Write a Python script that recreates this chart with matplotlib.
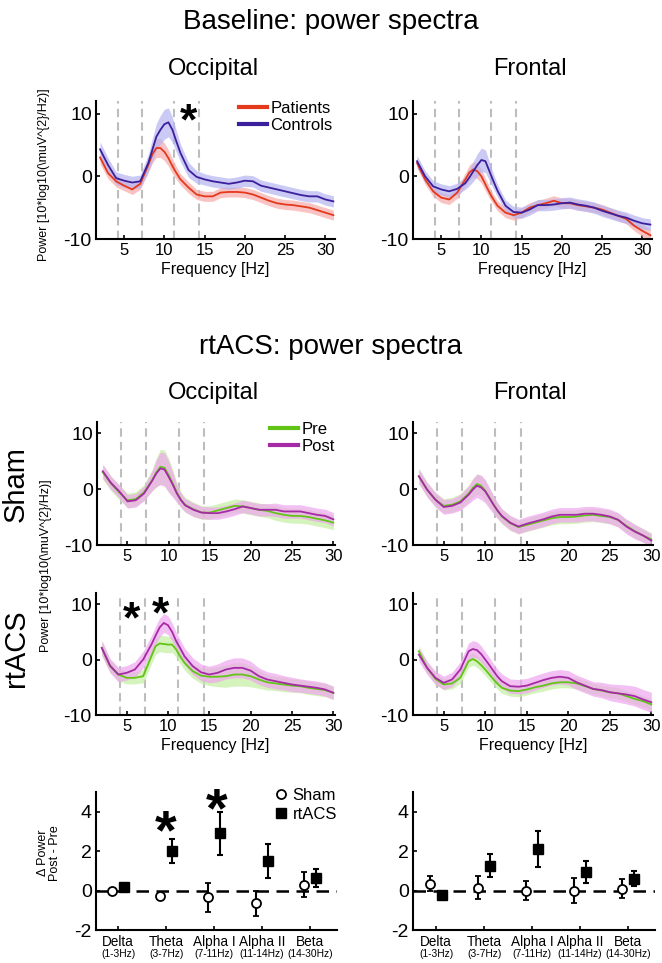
import matplotlib
matplotlib.use("Agg")
import matplotlib.pyplot as plt
from matplotlib.lines import Line2D
import numpy as np

plt.rcParams['font.family'] = ['Liberation Sans', 'DejaVu Sans']
plt.rcParams['axes.unicode_minus'] = False

# ---------------- data ----------------
FREQ_BASE = [2, 3, 4, 5, 6, 7, 8, 8.5, 9, 9.5, 10, 10.5, 11, 11.5, 12, 13, 14, 15, 16, 17,
             18, 19, 20, 21, 22, 23, 24, 25, 26, 27, 28, 29, 30, 31]
FREQ_RT = [2, 3, 4, 5, 6, 7, 8, 8.5, 9, 9.5, 10, 10.5, 11, 11.5, 12, 13, 14, 15, 16, 17,
           18, 19, 20, 21, 22, 23, 24, 25, 26, 27, 28, 29, 30]
BAND_EDGES = [4.2, 7.2, 11.2, 14.3]
FREQ_TICKS = [5, 10, 15, 20, 25, 30]

# Baseline occipital
patients_occ = [3.0, 0.5, -0.8, -1.5, -2.1, -1.2, 1.8, 3.5, 4.5, 4.5, 3.9, 2.9, 1.6, 0.5, -0.5,
                -1.8, -2.9, -3.2, -3.2, -2.6, -2.5, -2.5, -2.6, -2.9, -3.4, -3.9, -4.3, -4.5,
                -4.6, -4.8, -5.0, -5.4, -5.8, -6.2]
patients_occ_sem = [1.0, 0.9, 0.9, 0.8, 0.8, 0.9, 1.2, 1.4, 1.5, 1.5, 1.4, 1.3, 1.2, 1.0, 0.9,
                    0.9, 0.8, 0.8, 0.8, 0.8, 0.8, 0.8, 0.8, 0.8, 0.8, 0.8, 0.8, 0.8, 0.8, 0.8,
                    0.8, 0.8, 0.8, 0.8]
controls_occ = [4.3, 1.8, -0.3, -0.7, -1.0, -0.8, 2.1, 4.2, 6.3, 7.4, 8.3, 8.6, 7.4, 5.5, 3.7,
                1.0, -0.1, -0.5, -0.8, -1.0, -1.2, -1.0, -0.7, -0.8, -1.5, -1.8, -2.1, -2.4,
                -2.7, -3.0, -3.2, -3.2, -3.7, -4.0]
controls_occ_sem = [1.2, 1.1, 1.0, 1.0, 1.0, 1.0, 1.4, 1.8, 2.1, 2.3, 2.4, 2.3, 2.0, 1.7, 1.4,
                    1.2, 1.0, 0.9, 0.9, 0.9, 0.9, 0.9, 0.9, 0.9, 0.9, 0.9, 0.9, 0.9, 0.9, 0.9,
                    0.9, 0.9, 0.9, 0.9]
# Baseline frontal
patients_fro = [2.1, -0.5, -2.4, -3.4, -3.7, -2.6, -0.5, 0.6, 1.1, 0.8, 0.0, -1.3, -2.6, -3.7,
                -4.7, -5.8, -6.2, -5.8, -5.0, -4.6, -4.3, -3.9, -4.3, -4.3, -4.6, -4.8, -5.0,
                -5.3, -5.8, -6.3, -6.8, -7.9, -8.7, -9.4]
patients_fro_sem = [0.8, 0.8, 0.8, 0.8, 0.8, 0.9, 1.0, 1.2, 1.2, 1.2, 1.1, 1.0, 0.9, 0.8, 0.8,
                    0.8, 0.8, 0.8, 0.8, 0.8, 0.8, 0.8, 0.8, 0.8, 0.8, 0.8, 0.8, 0.8, 0.8, 0.8,
                    0.8, 0.8, 0.9, 1.0]
controls_fro = [2.4, 0.0, -1.6, -2.1, -2.4, -2.0, -1.1, -0.2, 0.8, 1.8, 2.6, 2.4, 0.8, -0.8,
                -2.3, -4.7, -5.7, -5.8, -5.3, -4.6, -4.6, -4.5, -4.3, -4.2, -4.5, -4.7, -5.0,
                -5.5, -5.9, -6.3, -6.6, -7.1, -7.5, -7.7]
controls_fro_sem = [0.9, 0.9, 0.9, 0.9, 0.9, 0.9, 1.0, 1.3, 1.6, 1.8, 1.9, 1.8, 1.5, 1.2, 1.0,
                    0.9, 0.9, 0.9, 0.9, 0.9, 0.9, 0.9, 0.9, 0.9, 0.9, 0.9, 0.9, 0.9, 0.9, 0.9,
                    0.9, 0.9, 0.9, 0.9]

# Sham occipital
sham_occ_pre = [3.0, 1.0, -0.6, -2.0, -1.8, -0.6, 1.6, 3.0, 4.0, 3.8, 2.5, 1.0, -0.6, -1.9, -2.8,
                -3.6, -4.2, -4.2, -3.8, -3.4, -3.0, -3.1, -3.4, -3.7, -3.9, -4.3, -4.6, -4.8,
                -4.8, -5.0, -5.3, -5.6, -6.0]
sham_occ_pre_sem = [1.3, 1.3, 1.3, 1.3, 1.3, 1.4, 1.9, 2.6, 3.1, 3.2, 3.0, 2.4, 1.7, 1.4, 1.3,
                    1.3, 1.2, 1.2, 1.2, 1.2, 1.2, 1.2, 1.2, 1.2, 1.2, 1.3, 1.3, 1.3, 1.3, 1.3,
                    1.3, 1.3, 1.3]
sham_occ_post = [3.2, 1.1, -0.4, -2.2, -2.0, -0.8, 1.5, 2.8, 3.7, 3.5, 2.2, 0.8, -0.8, -2.0, -2.9,
                 -3.7, -4.2, -4.3, -4.3, -4.0, -3.6, -3.1, -3.4, -3.7, -3.7, -3.7, -4.0, -4.0,
                 -4.0, -4.3, -4.6, -4.8, -5.4]
sham_occ_post_sem = [1.3, 1.2, 1.2, 1.2, 1.2, 1.3, 1.8, 2.4, 2.9, 3.0, 2.8, 2.2, 1.6, 1.3, 1.2,
                     1.2, 1.1, 1.1, 1.1, 1.1, 1.1, 1.1, 1.1, 1.1, 1.1, 1.2, 1.2, 1.2, 1.2, 1.2,
                     1.2, 1.2, 1.2]
# Sham frontal
sham_fro_pre = [2.3, -0.1, -1.9, -3.0, -2.8, -2.2, -0.8, 0.2, 0.9, 0.6, -0.3, -1.5, -2.8, -3.9,
                -4.9, -6.1, -6.8, -6.4, -6.0, -5.6, -5.2, -5.0, -5.0, -4.9, -4.7, -4.6, -4.8,
                -5.0, -5.5, -6.6, -7.5, -8.3, -9.0]
sham_fro_pre_sem = [1.4, 1.3, 1.3, 1.3, 1.3, 1.4, 1.5, 1.7, 1.8, 1.8, 1.8, 1.6, 1.5, 1.4, 1.3,
                    1.3, 1.2, 1.2, 1.2, 1.2, 1.2, 1.2, 1.2, 1.2, 1.2, 1.2, 1.2, 1.2, 1.2, 1.2,
                    1.2, 1.2, 1.2]
sham_fro_post = [2.3, -0.1, -1.9, -3.2, -3.0, -2.4, -1.0, -0.1, 0.6, 0.3, -0.4, -1.6, -2.8, -3.9,
                 -4.8, -6.0, -6.7, -6.2, -5.8, -5.4, -4.9, -4.6, -4.6, -4.6, -4.4, -4.4, -4.6,
                 -4.9, -5.5, -6.7, -7.6, -8.3, -9.2]
sham_fro_post_sem = [1.3, 1.3, 1.3, 1.3, 1.3, 1.4, 1.6, 1.9, 2.1, 2.2, 2.1, 1.9, 1.6, 1.4, 1.3,
                     1.3, 1.3, 1.3, 1.3, 1.3, 1.3, 1.3, 1.3, 1.3, 1.3, 1.3, 1.3, 1.3, 1.3, 1.3,
                     1.3, 1.2, 1.2]

# rtACS occipital
rt_occ_pre = [2.1, -1.2, -2.7, -3.3, -3.3, -3.0, 0.6, 2.4, 2.9, 2.8, 2.7, 2.7, 1.8, 0.5, -0.6,
              -2.1, -2.9, -3.1, -3.1, -3.0, -2.7, -2.7, -3.0, -3.6, -4.1, -4.3, -4.5, -4.7,
              -4.8, -5.1, -5.3, -5.5, -6.0]
rt_occ_pre_sem = [1.2, 1.1, 1.1, 1.1, 1.1, 1.2, 1.4, 1.5, 1.5, 1.5, 1.5, 1.4, 1.4, 1.3, 1.3,
                  1.3, 1.4, 1.6, 1.8, 2.0, 2.1, 2.1, 1.9, 1.6, 1.4, 1.3, 1.3, 1.2, 1.2, 1.2,
                  1.2, 1.2, 1.2]
rt_occ_post = [2.1, -1.1, -2.7, -2.4, -1.8, 0.0, 2.7, 4.3, 5.8, 6.6, 6.2, 5.0, 3.3, 2.0, 0.6,
               -1.2, -2.3, -2.7, -2.4, -1.8, -1.5, -1.5, -2.0, -3.0, -3.6, -3.9, -4.2, -4.5,
               -4.7, -4.9, -5.1, -5.4, -6.0]
rt_occ_post_sem = [1.4, 1.3, 1.3, 1.3, 1.4, 1.5, 1.6, 1.7, 1.7, 1.7, 1.7, 1.6, 1.6, 1.5, 1.5,
                   1.5, 1.5, 1.5, 1.6, 1.7, 1.8, 1.8, 1.7, 1.5, 1.4, 1.4, 1.3, 1.3, 1.2, 1.2,
                   1.2, 1.2, 1.2]
# rtACS frontal
rt_fro_pre = [1.5, -1.5, -3.5, -4.5, -4.3, -3.3, -0.3, 0.1, -0.3, -1.0, -1.8, -2.7, -3.6, -4.4,
              -5.1, -5.6, -5.7, -5.4, -5.0, -4.7, -4.3, -4.1, -4.1, -4.3, -4.8, -5.3, -5.6,
              -5.9, -6.1, -6.6, -7.1, -7.5, -8.1]
rt_fro_pre_sem = [1.0, 1.0, 1.0, 1.0, 1.0, 1.0, 1.1, 1.1, 1.1, 1.1, 1.1, 1.1, 1.0, 1.0, 1.0,
                  1.0, 1.0, 1.0, 1.0, 1.0, 1.0, 1.0, 1.0, 1.0, 1.0, 1.0, 1.0, 1.0, 1.0, 1.0,
                  1.0, 1.0, 1.0]
rt_fro_post = [0.9, -1.5, -3.3, -4.2, -3.6, -1.8, 1.5, 1.9, 1.7, 1.0, 0.0, -1.0, -2.1, -3.1,
               -3.9, -4.8, -4.9, -4.7, -4.2, -3.7, -3.3, -3.1, -3.3, -4.1, -4.7, -5.3, -5.5,
               -5.9, -6.1, -6.3, -6.6, -7.2, -7.7]
rt_fro_post_sem = [1.2, 1.2, 1.2, 1.2, 1.3, 1.4, 1.5, 1.5, 1.5, 1.5, 1.4, 1.4, 1.3, 1.3, 1.3,
                   1.3, 1.3, 1.3, 1.3, 1.3, 1.3, 1.3, 1.3, 1.3, 1.3, 1.3, 1.4, 1.5, 1.6, 1.7,
                   1.8, 1.8, 1.8]

# Delta power (post - pre) per frequency band
BANDS = ["Delta", "Theta", "Alpha I", "Alpha II", "Beta"]
BAND_RANGES = ["(1-3Hz)", "(3-7Hz)", "(7-11Hz)", "(11-14Hz)", "(14-30Hz)"]
occ_sham_change = [0.0, -0.25, -0.35, -0.65, 0.3]
occ_sham_err = [0.1, 0.2, 0.75, 0.65, 0.62]
occ_rt_change = [0.2, 2.0, 2.9, 1.5, 0.65]
occ_rt_err = [0.15, 0.6, 1.1, 0.85, 0.45]
fro_sham_change = [0.35, 0.15, 0.0, 0.0, 0.1]
fro_sham_err = [0.37, 0.6, 0.5, 0.63, 0.5]
fro_rt_change = [-0.2, 1.27, 2.1, 0.93, 0.6]
fro_rt_err = [0.1, 0.6, 0.9, 0.55, 0.37]

YLABEL = r"Power [10*log10(\muV^{2}/Hz)]"

# ---------------- style ----------------
RED, RED_BAND = '#e5391c', '#f6aaa8'
BLUE, BLUE_BAND = '#3b1f9c', '#b4b4f2'
GREEN, GREEN_BAND = '#62c417', '#c4eea0'
MAG, MAG_BAND = '#a62aa6', '#eea6ee'

W, H = 662, 963
fig = plt.figure(figsize=(W / 100, H / 100), dpi=100)


def px_axes(x0, y0, x1, y1):
    return fig.add_axes([x0 / W, 1 - y1 / H, (x1 - x0) / W, (y1 - y0) / H])


def style(ax):
    for s in ['top', 'right']:
        ax.spines[s].set_visible(False)
    for s in ['left', 'bottom']:
        ax.spines[s].set_linewidth(1.5)
    ax.tick_params(direction='in', length=3, width=1.2, pad=3)


def spectrum(ax, freqs, series, xlim):
    style(ax)
    for e in BAND_EDGES:
        ax.axvline(e, color='#bdbdbd', lw=1.5, ls=(0, (4, 2.5)), zorder=1)
    f = np.array(freqs)
    for vals, sem, col, band in series:
        v, s = np.array(vals), np.array(sem)
        ax.fill_between(f, v - s, v + s, color=band, alpha=0.7, lw=0, zorder=2)
    for vals, sem, col, band in series:
        ax.plot(f, vals, color=col, lw=1.3, zorder=3)
    ax.set_xlim(*xlim)
    ax.set_ylim(-10, 12)
    ax.set_yticks([-10, 0, 10])
    ax.set_xticks(FREQ_TICKS)
    ax.tick_params(axis='y', labelsize=14)
    ax.tick_params(axis='x', labelsize=12)


def star(ax, x, y, size):
    ax.annotate('*', xy=(x, y), xycoords='data', xytext=(0, -0.55 * size),
                textcoords='offset points', ha='center', va='baseline',
                fontsize=size, fontweight='bold', zorder=5)


def line_legend(ax, labels, colors, anchor):
    hs = [Line2D([], [], color=c, lw=3) for c in colors]
    ax.legend(hs, labels, loc='upper right', bbox_to_anchor=anchor, frameon=False,
              fontsize=12, handlelength=1.7, handletextpad=0.2, labelspacing=0.1,
              borderpad=0, borderaxespad=0)


# ---- titles ----
fig.text(0.5, 1 - 22 / H, "Baseline: power spectra", ha='center', va='center', fontsize=20)
fig.text(0.5, 1 - 347 / H, "rtACS: power spectra", ha='center', va='center', fontsize=20)
for yy in (69, 393):
    fig.text(213 / W, 1 - yy / H, "Occipital", ha='center', va='center', fontsize=17)
    fig.text(530 / W, 1 - yy / H, "Frontal", ha='center', va='center', fontsize=17)

# ---- baseline row ----
ax = px_axes(96, 101, 335, 239)
spectrum(ax, FREQ_BASE, [(patients_occ, patients_occ_sem, RED, RED_BAND),
                         (controls_occ, controls_occ_sem, BLUE, BLUE_BAND)], (1.5, 31.2))
ax.set_xlabel("Frequency [Hz]", fontsize=11.5, labelpad=3)
line_legend(ax, ["Patients", "Controls"], [RED, BLUE], (0.99, 1.0))
star(ax, 13.0, 10.6, 32)

ax = px_axes(413, 101, 652, 239)
spectrum(ax, FREQ_BASE, [(patients_fro, patients_fro_sem, RED, RED_BAND),
                         (controls_fro, controls_fro_sem, BLUE, BLUE_BAND)], (1.5, 31.2))
ax.set_xlabel("Frequency [Hz]", fontsize=11.5, labelpad=3)

fig.text(44 / W, 1 - 175 / H, YLABEL, rotation=90, ha='center', va='center', fontsize=9)

# ---- sham row ----
ax = px_axes(97, 422, 335, 545)
spectrum(ax, FREQ_RT, [(sham_occ_pre, sham_occ_pre_sem, GREEN, GREEN_BAND),
                       (sham_occ_post, sham_occ_post_sem, MAG, MAG_BAND)], (1.3, 30.2))
line_legend(ax, ["Pre", "Post"], [GREEN, MAG], (1.0, 1.0))

ax = px_axes(413, 422, 653, 545)
spectrum(ax, FREQ_RT, [(sham_fro_pre, sham_fro_pre_sem, GREEN, GREEN_BAND),
                       (sham_fro_post, sham_fro_post_sem, MAG, MAG_BAND)], (1.3, 30.2))

# ---- rtACS row ----
ax = px_axes(96, 593, 335, 715)
spectrum(ax, FREQ_RT, [(rt_occ_pre, rt_occ_pre_sem, GREEN, GREEN_BAND),
                       (rt_occ_post, rt_occ_post_sem, MAG, MAG_BAND)], (1.3, 30.2))
ax.set_xlabel("Frequency [Hz]", fontsize=11.5, labelpad=3)
star(ax, 5.6, 9.3, 32)
star(ax, 9.1, 10.2, 32)

ax = px_axes(413, 593, 653, 715)
spectrum(ax, FREQ_RT, [(rt_fro_pre, rt_fro_pre_sem, GREEN, GREEN_BAND),
                       (rt_fro_post, rt_fro_post_sem, MAG, MAG_BAND)], (1.3, 30.2))
ax.set_xlabel("Frequency [Hz]", fontsize=11.5, labelpad=3)

fig.text(16 / W, 1 - 484 / H, "Sham", rotation=90, ha='center', va='center', fontsize=21)
fig.text(16 / W, 1 - 648 / H, "rtACS", rotation=90, ha='center', va='center', fontsize=21)
fig.text(46 / W, 1 - 566 / H, YLABEL, rotation=90, ha='center', va='center', fontsize=9)


# ---- band change row ----
def change_panel(ax, sham, sham_err, rt, rt_err, xlim):
    style(ax)
    x = np.arange(1, len(BANDS) + 1)
    ax.axhline(0, color='black', lw=1.8, ls=(0, (5, 3)), zorder=1)
    ax.errorbar(x - 0.12, sham, yerr=sham_err, fmt='o', color='black', mfc='white',
                mec='black', ms=6.5, mew=1.3, elinewidth=1.5, capsize=2.5, capthick=1.5,
                zorder=3)
    ax.errorbar(x + 0.12, rt, yerr=rt_err, fmt='s', color='black', ms=7, elinewidth=1.5,
                capsize=2.5, capthick=1.5, zorder=3)
    ax.set_xlim(*xlim)
    ax.set_ylim(-2, 5)
    ax.set_yticks([-2, 0, 2, 4])
    ax.set_xticks(x)
    ax.set_xticklabels([])
    ax.tick_params(axis='y', labelsize=14)
    for xi, name, rng in zip(x, BANDS, BAND_RANGES):
        ax.text(xi, -0.087, name, transform=ax.get_xaxis_transform(), ha='center',
                va='center', fontsize=9.8)
        ax.text(xi, -0.174, rng, transform=ax.get_xaxis_transform(), ha='center',
                va='center', fontsize=7.4)


ax = px_axes(96, 792, 337, 930)
change_panel(ax, occ_sham_change, occ_sham_err, occ_rt_change, occ_rt_err, (0.54, 5.56))
hs = [Line2D([], [], marker='o', mfc='white', mec='black', mew=1.3, ms=6.5, ls='none'),
      Line2D([], [], marker='s', color='black', ms=7, ls='none')]
ax.legend(hs, ["Sham", "rtACS"], loc='upper right', bbox_to_anchor=(1.0, 1.03), frameon=False,
          fontsize=12, handlelength=0.8, handletextpad=0.3, labelspacing=0.25, borderpad=0,
          borderaxespad=0)
star(ax, 2.0, 3.7, 40)
star(ax, 3.05, 4.8, 40)

ax = px_axes(413, 792, 655, 930)
change_panel(ax, fro_sham_change, fro_sham_err, fro_rt_change, fro_rt_err, (0.52, 5.56))

fig.text(49 / W, 1 - 853 / H, "\u0394 Power\nPost - Pre", rotation=90, ha='center',
         va='center', fontsize=9, multialignment='center', linespacing=1.1)

fig.savefig("out.png", dpi=100)
